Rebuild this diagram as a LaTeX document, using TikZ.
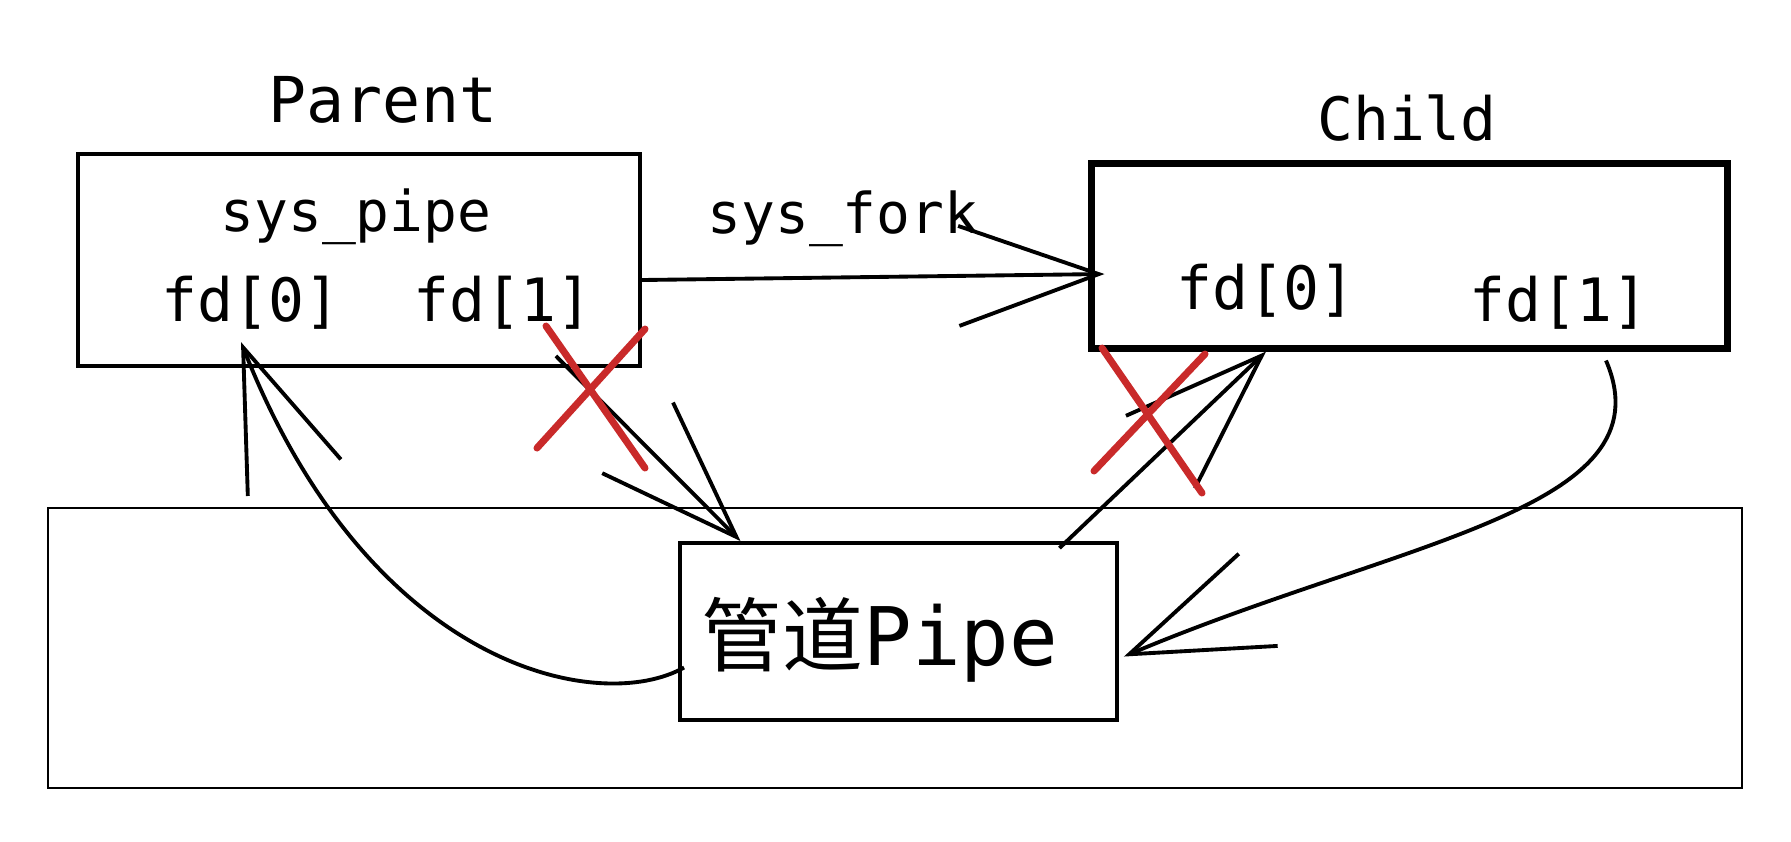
\documentclass[tikz,border=0pt]{standalone}
\usepackage{fontspec}
\setmonofont{DejaVu Sans Mono}
\newfontfamily\cjkfont{Noto Sans CJK SC}
\usetikzlibrary{arrows.meta}

\definecolor{xred}{HTML}{C92A2A}
\tikzset{
  box/.style={draw, line width=1.1pt},
  lbl/.style={font=\ttfamily\fontsize{17}{20}\selectfont},
  arr/.style={line width=1.1pt, -{Straight Barb[length=14mm, width=10mm]}},
  cross/.style={draw=xred, line width=2pt, line cap=round},
}

\begin{document}
\begin{tikzpicture}[x=0.1mm, y=-0.1mm]
        \useasboundingbox (0,0) rectangle (1791,841);
        % boxes
        \node[box, line width=0.8pt, minimum width=16.94cm, minimum height=2.8cm] (kernel) at (895,648) {};
        \node[box, minimum width=5.62cm, minimum height=2.12cm] (parent) at (359,260) {};
        \node[box, line width=2pt, minimum width=6.36cm, minimum height=1.85cm] (child) at (1409,255.5) {};
        \node[box, minimum width=4.37cm, minimum height=1.77cm] (pipe) at (898.5,631.5) {};
        % texts
        \node[lbl, font=\ttfamily\fontsize{18}{20}\selectfont] (parentlbl) at (383,100) {Parent};
        \node[lbl] (childlbl) at (1407,118) {Child};
        \node[lbl, font=\ttfamily\fontsize{16}{20}\selectfont] (pipecall) at (356,217) {sys\_pipe};
        \node[lbl] (pfd0) at (251,303) {fd[0]};
        \node[lbl] (pfd1) at (503,303) {fd[1]};
        \node[lbl] (cfd0) at (1266,291) {fd[0]};
        \node[lbl] (cfd1) at (1559,303) {fd[1]};
        \node[lbl, font=\ttfamily\fontsize{16}{20}\selectfont] (forkcall) at (843,219) {sys\_fork};
        \node[lbl, font=\ttfamily\fontsize{23}{26}\selectfont] (pipelbl) at (880,640) {{\cjkfont 管道}Pipe};
        % arrows
        \draw[arr] ([yshift=-2mm]parent.east) -- ([xshift=1.7mm,yshift=-1.85mm]child.west);
        \draw[arr] ([xshift=-8.6mm,yshift=1.2mm]parent.south east) -- ([xshift=-15.8mm]pipe.north);
        \draw[arr] ([xshift=16.1mm,yshift=-0.7mm]pipe.north) -- (cfd0 |- child.south);
        \draw[arr] ([xshift=0.6mm,yshift=-3.6mm]pipe.west) .. controls (600,715) and (370,670) .. ([xshift=-1mm]pfd0.south);
        \draw[arr] ([xshift=19.7mm,yshift=-0.9mm]child.south) .. controls (1670,510) and (1400,540) .. ([xshift=0.5mm,yshift=-2.5mm]pipe.east);
        % closed ends
        \draw[cross] (546,326) -- (645,468);
        \draw[cross] (645,329) -- (537,448);
        \draw[cross] (1102,348) -- (1202,493);
        \draw[cross] (1205,354) -- (1094,471);
\end{tikzpicture}
\end{document}
